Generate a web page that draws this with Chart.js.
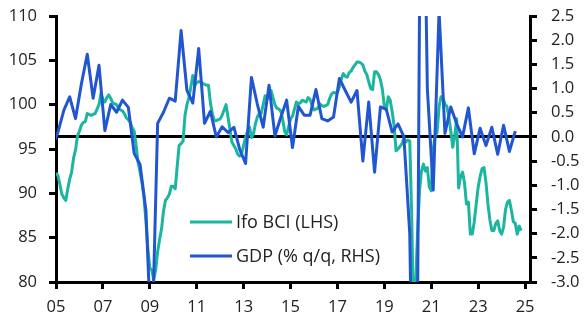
<!DOCTYPE html>
<html lang="en">
<head>
<meta charset="utf-8">
<title>Ifo BCI and GDP</title>
<script src="https://cdn.jsdelivr.net/npm/chart.js"></script>
<style>
  html, body { margin: 0; padding: 0; background: #fff; }
  #wrap { width: 586px; height: 322px; }
</style>
</head>
<body>
<div id="wrap"><canvas id="chart" width="586" height="322"></canvas></div>
<script>
  // Ifo business climate index, monthly from Jan 2005 (LHS)
  const ifoStart = 2005;
  const ifoBCI = [
    92.3, 92.0, 91.0, 89.9, 89.5, 89.2, 90.5, 91.6, 92.4, 94.0, 94.9, 96.5,          // 2005
    97.0, 97.7, 98.0, 98.1, 99.0, 98.9, 98.8, 98.9, 99.0, 99.5, 100.0, 101.3,        // 2006
    100.6, 100.3, 100.8, 101.1, 100.7, 100.2, 100.1, 100.0, 99.6, 99.4, 99.3, 99.0,  // 2007
    98.5, 98.3, 98.0, 97.4, 97.0, 95.4, 93.5, 92.4, 91.2, 89.6, 86.9, 83.8,          // 2008
    81.6, 81.3, 80.3, 81.4, 83.4, 84.8, 86.0, 88.0, 89.2, 89.5, 89.9, 90.8,          // 2009
    90.8, 90.5, 93.0, 95.4, 95.6, 95.9, 98.8, 100.0, 100.8, 102.0, 103.3, 102.2,     // 2010
    102.5, 102.6, 102.5, 102.4, 102.3, 102.2, 102.2, 100.2, 99.0, 98.2, 98.2, 98.3,  // 2011
    98.4, 98.8, 99.4, 100.0, 98.6, 97.2, 95.8, 95.4, 95.0, 94.4, 94.2, 94.5,         // 2012
    95.4, 96.3, 97.0, 97.5, 96.3, 96.7, 97.8, 98.6, 99.0, 99.0, 100.0, 101.0,        // 2013
    100.9, 100.7, 101.6, 100.8, 100.0, 99.6, 99.5, 99.3, 98.3, 97.0, 96.6, 97.5,     // 2014
    98.4, 98.7, 99.5, 100.3, 100.1, 100.2, 100.5, 100.4, 100.3, 100.8, 100.6, 99.9,  // 2015
    99.4, 99.5, 99.6, 100.1, 99.9, 99.8, 99.9, 100.0, 100.7, 101.2, 101.4, 101.3,    // 2016
    101.4, 102.0, 102.9, 103.5, 103.2, 103.1, 103.6, 103.8, 104.2, 104.5, 104.8, 104.8, // 2017
    104.7, 104.5, 103.8, 103.4, 102.6, 101.8, 101.7, 103.7, 103.7, 103.4, 102.8, 101.7, // 2018
    99.8, 99.4, 100.9, 100.5, 99.2, 97.6, 94.8, 95.0, 95.3, 95.6, 96.2, 95.8,        // 2019
    96.0, 95.9, 87.5, 74.5, 79.8, 85.6, 90.3, 92.5, 93.3, 92.5, 92.9, 90.7,          // 2020
    90.3, 95.0, 96.5, 96.9, 99.8, 100.9, 100.7, 100.1, 99.8, 98.6, 97.0, 95.2,       // 2021
    96.5, 98.4, 90.6, 91.9, 92.4, 91.2, 88.8, 89.0, 85.4, 85.4, 86.8, 88.8,          // 2022
    90.7, 91.9, 92.8, 92.9, 91.2, 88.8, 87.0, 85.8, 85.8, 86.6, 86.9, 85.8,          // 2023
    85.4, 86.2, 88.2, 89.0, 89.2, 88.1, 86.8, 86.6, 85.4, 86.3, 85.8                 // 2024
  ];

  // GDP growth, % q/q, quarterly from 2004 Q4 (RHS)
  const gdpStart = 2004.75;
  const gdpQoQ = [
    -0.2,                          // 2004 Q4
    0.1, 0.55, 0.83, 0.38,         // 2005
    1.1, 1.71, 0.8, 1.48,          // 2006
    0.13, 0.67, 0.51, 0.76,        // 2007
    0.61, -0.34, -0.57, -1.52,     // 2008
    -4.5, 0.28, 0.51, 0.8,         // 2009
    0.74, 2.2, 0.96, 0.7,          // 2010
    1.83, 0.28, 0.53, 0.0,         // 2011
    0.21, 0.09, 0.2, -0.26,        // 2012
    -0.55, 1.23, 0.68, 0.2,        // 2013
    1.07, 0.02, 0.4, 0.76,         // 2014
    -0.22, 0.63, 0.45, 0.45,       // 2015
    0.98, 0.38, 0.33, 0.41,        // 2016
    1.21, 0.96, 0.72, 0.96,        // 2017
    -0.5, 0.72, -0.73, 0.62,       // 2018
    0.57, 0.1, 0.27, 0.0,          // 2019
    -2.0, -9.7, 8.9, 1.0,          // 2020
    -1.1, 2.6, 0.07, 0.62,         // 2021
    0.27, 0.0, 0.6, -0.35,         // 2022
    0.18, -0.18, 0.2, -0.36,       // 2023
    0.24, -0.3, 0.12               // 2024
  ];

  const yearTicks = [2005, 2007, 2009, 2011, 2013, 2015, 2017, 2019, 2021, 2023, 2025];
  const lhsRange = [80, 110];
  const rhsRange = [-3, 2.5];

  const ifoColor = '#1bb5a0';
  const gdpColor = '#2156d0';
  const textColor = '#222';
  const tickFont = { family: 'Open Sans', size: 16.5 };

  // monthly values sit at the start of each month, quarterly at the middle month
  const ifoPoints = ifoBCI.map((v, i) => ({ x: ifoStart + i / 12, y: v }));
  const gdpPoints = gdpQoQ.map((v, i) => ({ x: gdpStart + (3 * i + 1) / 12, y: v }));

  // legend drawn inside the plot area
  const insideLegend = {
    id: 'insideLegend',
    afterDraw(chart) {
      const ctx = chart.ctx;
      const items = [
        { label: 'Ifo BCI (LHS)', color: ifoColor, y: 222 },
        { label: 'GDP (% q/q, RHS)', color: gdpColor, y: 256 }
      ];
      ctx.save();
      ctx.font = '18px "Open Sans"';
      ctx.textBaseline = 'middle';
      items.forEach(it => {
        ctx.strokeStyle = it.color;
        ctx.lineWidth = 3;
        ctx.beginPath();
        ctx.moveTo(190, it.y);
        ctx.lineTo(232, it.y);
        ctx.stroke();
        ctx.fillStyle = textColor;
        ctx.fillText(it.label, 236, it.y + 1);
      });
      ctx.restore();
    }
  };

  const axisGrid = {
    drawOnChartArea: false,
    tickLength: 7,
    tickWidth: 3,
    tickColor: '#000',
    color: '#000'
  };

  // fixed axis sizes so the plot area is 56..530 x 16..282
  const fixWidth = s => { s.width = 56; s.paddingTop = 0; s.paddingBottom = 0; };

  new Chart(document.getElementById('chart'), {
    type: 'line',
    data: {
      datasets: [
        {
          label: 'GDP (% q/q, RHS)',
          data: gdpPoints,
          yAxisID: 'y1',
          borderColor: gdpColor,
          borderWidth: 3,
          pointRadius: 0,
          tension: 0,
          borderJoinStyle: 'round',
          fill: false
        },
        {
          label: 'Ifo BCI (LHS)',
          data: ifoPoints,
          yAxisID: 'y',
          borderColor: ifoColor,
          borderWidth: 3,
          pointRadius: 0,
          tension: 0,
          borderJoinStyle: 'round',
          fill: false
        }
      ]
    },
    options: {
      responsive: false,
      animation: false,
      devicePixelRatio: 1,
      layout: { padding: { top: 16, left: 0, right: 0, bottom: 0 } },
      plugins: {
        legend: { display: false },
        tooltip: { enabled: false }
      },
      scales: {
        x: {
          type: 'linear',
          min: 2005,
          max: 2025.21,
          afterBuildTicks: s => { s.ticks = yearTicks.map(v => ({ value: v })); },
          afterFit: s => { s.height = 40; s.paddingLeft = 0; s.paddingRight = 0; },
          ticks: {
            autoSkip: false,
            maxRotation: 0,
            padding: 8,
            color: textColor,
            font: tickFont,
            callback: v => String(v).slice(2)
          },
          grid: axisGrid,
          border: { color: '#000', width: 3 }
        },
        y: {
          position: 'left',
          min: lhsRange[0],
          max: lhsRange[1],
          afterFit: fixWidth,
          ticks: { stepSize: 5, padding: 12, color: textColor, font: tickFont },
          grid: axisGrid,
          border: { color: '#000', width: 3 }
        },
        y1: {
          position: 'right',
          min: rhsRange[0],
          max: rhsRange[1],
          afterFit: fixWidth,
          ticks: {
            stepSize: 0.5,
            padding: 14,
            color: textColor,
            font: tickFont,
            callback: v => v.toFixed(1)
          },
          grid: {
            drawOnChartArea: true,
            lineWidth: 3,
            tickLength: 7,
            tickWidth: 3,
            tickColor: '#000',
            color: c => (c.tick && Math.abs(c.tick.value) < 1e-9) ? '#000' : 'rgba(0,0,0,0)'
          },
          border: { color: '#000', width: 3 }
        }
      }
    },
    plugins: [insideLegend]
  });
</script>
</body>
</html>
